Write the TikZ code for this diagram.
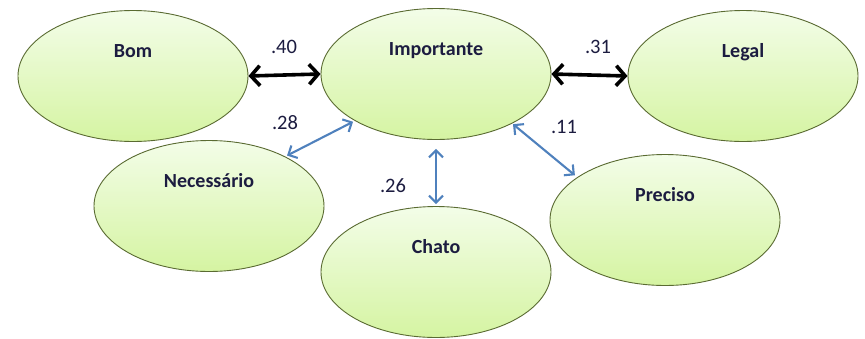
\documentclass[tikz,border=0pt]{standalone}
\usepackage{fontspec}
\setmainfont{Carlito}
\usetikzlibrary{shapes.geometric,arrows.meta}
\definecolor{ellborder}{HTML}{5A6B32}
\definecolor{elltop}{HTML}{F3FDE8}
\definecolor{ellbot}{HTML}{D5F4A2}
\definecolor{txt}{HTML}{1C1C40}
\definecolor{arrblue}{HTML}{4F81BD}
\tikzset{
  ell/.style={ellipse, draw=ellborder, line width=0.9pt, top color=elltop, bottom color=ellbot,
    minimum width=230pt, minimum height=131pt, inner sep=0pt},
  lbl/.style={anchor=base, text=txt, font=\fontsize{20}{23}\selectfont\bfseries, inner sep=0pt},
  num/.style={anchor=base, text=txt, font=\fontsize{20.5}{23}\selectfont, inner sep=0pt},
  blackarr/.style={line width=3.6pt, black, {Straight Barb[length=9pt,width=20pt]}-{Straight Barb[length=9pt,width=20pt]}},
  bluearr/.style={line width=2.1pt, arrblue, {Straight Barb[length=7pt,width=14pt]}-{Straight Barb[length=7pt,width=14pt]}}
}
\begin{document}
\begin{tikzpicture}[x=1pt,y=-1pt]
\useasboundingbox[fill=white] (0,0) rectangle (865,338);
\node[ell] (bom) at (133,76) {};
\node[ell] (imp) at (436,74) {};
\node[ell] (leg) at (743,76) {};
\node[ell] (nec) at (209,206) {};
\node[ell] (cha) at (436,272) {};
\node[ell] (pre) at (665,220) {};
\node[lbl] (bomt) at (133,57) {Bom};
\node[lbl] (impt) at (436,55) {Importante};
\node[lbl] (legt) at (743,57) {Legal};
\node[lbl] (nect) at (209,187) {Necessário};
\node[lbl] (chat) at (436,253) {Chato};
\node[lbl] (pret) at (665,201) {Preciso};
\draw[blackarr] (bom.east) -- (imp.west);
\draw[blackarr] (imp.east) -- (leg.west);
\draw[bluearr, shorten <=2pt, shorten >=2pt] (nec.33) -- (imp.210);
\draw[bluearr, shorten <=9pt, shorten >=2pt] (imp.south) -- (cha.north);
\draw[bluearr, shorten <=1pt, shorten >=3pt] (imp.-33) -- (pre.154);
\node[num] (n40) at (284,53) {.40};
\node[num] (n31) at (598,53) {.31};
\node[num] (n28) at (285,129) {.28};
\node[num] (n26) at (393,192) {.26};
\node[num] (n11) at (564,133) {.11};
\end{tikzpicture}
\end{document}
